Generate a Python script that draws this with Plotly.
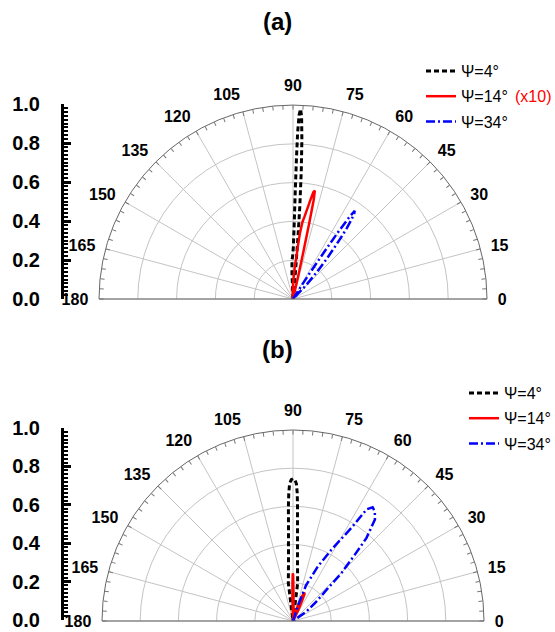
import plotly.graph_objects as go

# ---------------- data ----------------
# Panel (a)
theta_a_psi4 = [84.0, 84.6, 85.0, 85.4, 85.8, 86.3, 86.8, 87.3, 87.7, 88.1, 88.4, 88.6, 88.8, 89.1, 89.6, 90.5, 91.5, 92.3, 93.0]
r_a_psi4 = [0.00, 0.08, 0.18, 0.32, 0.48, 0.66, 0.82, 0.94, 0.98, 0.95, 0.86, 0.72, 0.55, 0.38, 0.27, 0.22, 0.20, 0.13, 0.00]

theta_a_psi14 = [76.5, 77.2, 77.6, 77.9, 78.2, 78.6, 79.2, 80.0, 81.0, 82.0, 83.0, 84.0, 84.8, 85.5, 86.5, 88.0, 90.0, 92.0, 94.0]
r_a_psi14 = [0.00, 0.12, 0.25, 0.40, 0.52, 0.57, 0.56, 0.52, 0.47, 0.43, 0.40, 0.34, 0.27, 0.21, 0.18, 0.12, 0.07, 0.04, 0.00]

theta_a_psi34 = [58.5, 57.5, 57.0, 56.6, 56.3, 56.0, 55.5, 55.0, 54.3, 53.5, 52.8, 52.0, 51.0, 50.0, 48.5, 46.5, 44.0]
r_a_psi34 = [0.00, 0.08, 0.16, 0.25, 0.33, 0.42, 0.51, 0.555, 0.54, 0.50, 0.46, 0.40, 0.33, 0.27, 0.19, 0.10, 0.00]

# Panel (b)
theta_b_psi4 = [76.0, 83.0, 85.5, 86.6, 87.3, 87.75, 88.1, 88.6, 89.3, 90.0, 90.7, 91.4, 91.9, 92.3, 92.7, 93.4, 94.5, 97.0, 104.0]
r_b_psi4 = [0.00, 0.20, 0.30, 0.40, 0.50, 0.60, 0.67, 0.72, 0.74, 0.745, 0.74, 0.72, 0.67, 0.60, 0.50, 0.40, 0.30, 0.20, 0.00]

theta_b_psi14 = [94.0, 91.5, 90.8, 90.3, 89.8, 89.0, 87.0, 84.0, 80.0, 76.0, 72.0, 69.5, 68.0, 67.0, 66.0, 64.0, 60.0]
r_b_psi14 = [0.00, 0.12, 0.20, 0.25, 0.24, 0.15, 0.06, 0.03, 0.02, 0.04, 0.09, 0.14, 0.16, 0.155, 0.12, 0.06, 0.00]

theta_b_psi34 = [76.0, 71.4, 69.9, 65.5, 61.7, 57.9, 56.6, 55.0, 53.2, 51.1, 48.5, 47.0, 44.7, 43.2, 39.8, 35.2, 30.0]
r_b_psi34 = [0.00, 0.107, 0.20, 0.314, 0.424, 0.576, 0.70, 0.727, 0.715, 0.683, 0.581, 0.475, 0.357, 0.251, 0.159, 0.085, 0.00]

series_names = ["\u03a8=4\u00b0", "\u03a8=14\u00b0", "\u03a8=34\u00b0"]
panel_titles = ["(a)", "(b)"]
scale_note = "(x10)"

angular_major = list(range(0, 181, 15))
angular_labels = [str(a) for a in angular_major]
angular_minor = list(range(0, 181, 3))
ring_values = [0.2, 0.4, 0.6, 0.8]
radial_ticks = [0.0, 0.2, 0.4, 0.6, 0.8, 1.0]
radial_labels = ["0.0", "0.2", "0.4", "0.6", "0.8", "1.0"]

# ---------------- layout geometry (page pixels -> paper) ----------------
FW, FH = 555, 632
def px_x(p):
    return p / FW
def px_y(p):
    return 1 - p / FH

FONT = "Liberation Sans, Arial, sans-serif"
GRID = "#c4c4c4"

fig = go.Figure()

styles = [
    dict(color="black", width=3, dash="5px,3px"),
    dict(color="#ff0000", width=2.5, dash="solid"),
    dict(color="#0000ff", width=2.5, dash="9px,3px,2px,3px"),
]

panel_a = [(theta_a_psi4, r_a_psi4), (theta_a_psi14, r_a_psi14), (theta_a_psi34, r_a_psi34)]
panel_b = [(theta_b_psi4, r_b_psi4), (theta_b_psi14, r_b_psi14), (theta_b_psi34, r_b_psi34)]

for i, ((th, rr), name, st) in enumerate(zip(panel_a, series_names, styles)):
    fig.add_trace(go.Scatterpolar(r=rr, theta=th, mode="lines", name=name,
                                  line=st, subplot="polar", legend="legend",
                                  legendgroup="a%d" % i))
for i, ((th, rr), name, st) in enumerate(zip(panel_b, series_names, styles)):
    fig.add_trace(go.Scatterpolar(r=rr, theta=th, mode="lines", name=name,
                                  line=st, subplot="polar2", legend="legend2",
                                  legendgroup="b%d" % i))

# empty traces so the overlay polar (minor ticks) and the radial scales are drawn
fig.add_trace(go.Scatterpolar(r=[], theta=[], subplot="polar3", showlegend=False))
fig.add_trace(go.Scatterpolar(r=[], theta=[], subplot="polar4", showlegend=False))
fig.add_trace(go.Scatter(x=[], y=[], xaxis="x", yaxis="y", showlegend=False))
fig.add_trace(go.Scatter(x=[], y=[], xaxis="x2", yaxis="y2", showlegend=False))

def polar_cfg(dom):
    return dict(
        domain=dom,
        sector=[0, 180],
        bgcolor="white",
        angularaxis=dict(
            tickmode="array", tickvals=angular_major, ticktext=angular_labels,
            ticks="outside", ticklen=7, tickcolor="rgba(0,0,0,0)",
            showline=True, linecolor="#666", linewidth=1,
            showgrid=True, gridcolor=GRID, gridwidth=1,
            tickfont=dict(family=FONT, size=16, color="black", weight="bold"),
            direction="counterclockwise", rotation=0,
        ),
        radialaxis=dict(
            range=[0, 1], tickmode="array", tickvals=ring_values,
            showticklabels=False, ticks="", showline=False,
            showgrid=True, gridcolor=GRID, gridwidth=1,
        ),
    )

def overlay_cfg(dom):
    return dict(
        domain=dom,
        sector=[0, 180],
        bgcolor="rgba(0,0,0,0)",
        angularaxis=dict(
            tickmode="array", tickvals=angular_minor,
            ticks="inside", ticklen=4, tickwidth=1, tickcolor="#777",
            showticklabels=False, showline=False, showgrid=False,
            direction="counterclockwise", rotation=0,
        ),
        radialaxis=dict(range=[0, 1], visible=False),
    )

def yaxis_cfg(y0, y1):
    return dict(
        domain=[y0, y1], range=[0, 1], anchor="free", position=px_x(62), side="left",
        automargin=False,
        showline=True, linecolor="black", linewidth=3,
        tickmode="array", tickvals=radial_ticks, ticktext=radial_labels,
        ticks="inside", ticklen=7, tickwidth=2.5, tickcolor="black",
        minor=dict(tickmode="linear", tick0=0, dtick=0.02, ticks="inside",
                   ticklen=4, tickwidth=2, tickcolor="black"),
        tickfont=dict(family=FONT, size=20, color="black", weight="bold"),
        ticklabelstandoff=17,
        showgrid=False, zeroline=False,
    )

# panel (a): centre (293, 299), radius 194   (page pixels)
# panel (b): centre (293, 621), radius 191
dom_a = dict(x=[px_x(293 - 194), px_x(293 + 194)], y=[px_y(299), px_y(105)])
dom_b = dict(x=[px_x(293 - 191), px_x(293 + 191)], y=[px_y(621), px_y(430)])

fig.update_layout(
    template="none",
    width=FW, height=FH,
    margin=dict(l=0, r=0, t=0, b=0, autoexpand=False),
    paper_bgcolor="white", plot_bgcolor="white",
    font=dict(family=FONT, color="black"),
    polar=polar_cfg(dom_a),
    polar2=polar_cfg(dom_b),
    polar3=overlay_cfg(dom_a),
    polar4=overlay_cfg(dom_b),
    xaxis=dict(domain=[0, 0.05], range=[0, 1], visible=False, automargin=False),
    xaxis2=dict(domain=[0, 0.05], range=[0, 1], visible=False, automargin=False),
    yaxis=yaxis_cfg(px_y(299), px_y(104)),
    yaxis2=yaxis_cfg(px_y(620), px_y(428)),
    legend=dict(x=px_x(421), y=px_y(54), xanchor="left", yanchor="top",
                font=dict(family=FONT, size=16, color="black"),
                bgcolor="rgba(0,0,0,0)", tracegroupgap=1.5),
    legend2=dict(x=px_x(464), y=px_y(376), xanchor="left", yanchor="top",
                 font=dict(family=FONT, size=16, color="black"),
                 bgcolor="rgba(0,0,0,0)", tracegroupgap=1.5),
    showlegend=True,
)

for title, ty in zip(panel_titles, [22, 350]):
    fig.add_annotation(text=title, x=px_x(277), y=px_y(ty), xref="paper", yref="paper",
                       xanchor="center", yanchor="middle", showarrow=False,
                       font=dict(family=FONT, size=24, color="black", weight="bold"))
fig.add_annotation(text=scale_note, x=px_x(553), y=px_y(96), xref="paper", yref="paper",
                   xanchor="right", yanchor="middle", showarrow=False,
                   font=dict(family=FONT, size=16, color="#ff0000"))

# remove the page's default 8px body margin so the figure fills the window exactly
fig.write_html("out.html", config={"displayModeBar": False},
               post_script="document.body.style.margin='0';")
